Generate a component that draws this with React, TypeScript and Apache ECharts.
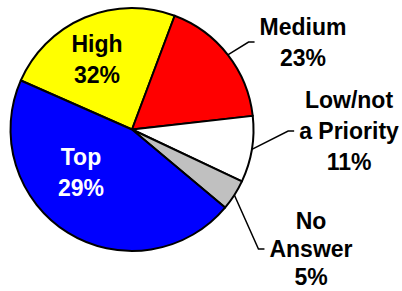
import React, { useEffect, useRef } from "react";
import * as echarts from "echarts";

const names = ["High", "Medium", "Low/not\na Priority", "No\nAnswer", "Top"];
const sliceShares = [24.1, 17.5, 8.8, 4.1, 45.5];
const shownPercents = [32, 23, 11, 5, 29];
const colors = ["#FFFF00", "#FF0000", "#FFFFFF", "#C0C0C0", "#0000FF"];
const labelColors = ["#000", "#000", "#000", "#000", "#FFF"];
const insideLabels = [true, false, false, false, true];

// label block centres and line heights (layout)
const labelCenters: number[][] = [
  [97, 59],
  [303, 42],
  [349, 131],
  [311, 249],
  [81, 172],
];
const labelLineHeights = [31, 31, 31, 28, 31];

export default function App() {
  const ref = useRef<HTMLDivElement>(null);
  useEffect(() => {
    if (!ref.current) return;
    const chart = echarts.init(ref.current, null, { renderer: "svg" });
    const data = names.map((n, i) => ({
      name: n,
      value: sliceShares[i],
      itemStyle: { color: colors[i] },
      label: {
        position: insideLabels[i] ? "inside" : "outside",
        color: labelColors[i],
        lineHeight: labelLineHeights[i],
      },
      labelLine: { show: !insideLabels[i] },
    }));
    chart.setOption({
      animation: false,
      backgroundColor: "#fff",
      series: [
        {
          type: "pie",
          center: [132, 129.5],
          radius: 121.5,
          startAngle: 156.2,
          clockwise: true,
          avoidLabelOverlap: false,
          data,
          itemStyle: { borderColor: "#000", borderWidth: 2 },
          label: {
            show: true,
            formatter: (p: any) => `${p.name}\n${shownPercents[p.dataIndex]}%`,
            fontFamily: "Liberation Sans, Arial, sans-serif",
            fontWeight: "bold",
            fontSize: 23,
            lineHeight: 31,
            align: "center",
          },
          labelLine: {
            show: true,
            length: 15,
            length2: 6,
            lineStyle: { color: "#000", width: 1.5 },
          },
          emphasis: { disabled: true },
          labelLayout: (p: any) => {
            const [cx, cy] = labelCenters[p.dataIndex];
            const res: any = { x: cx, y: cy, align: "center", verticalAlign: "middle" };
            if (!insideLabels[p.dataIndex] && p.labelLinePoints) {
              const start = p.labelLinePoints[0];
              const left = cx - p.labelRect.width / 2;
              res.labelLinePoints = [start, [left - 11, cy], [left - 5, cy]];
            }
            return res;
          },
        },
      ],
    });
    return () => chart.dispose();
  }, []);
  return (
    <div
      ref={ref}
      style={{ position: "fixed", left: 0, top: 0, width: 402, height: 291 }}
    />
  );
}
